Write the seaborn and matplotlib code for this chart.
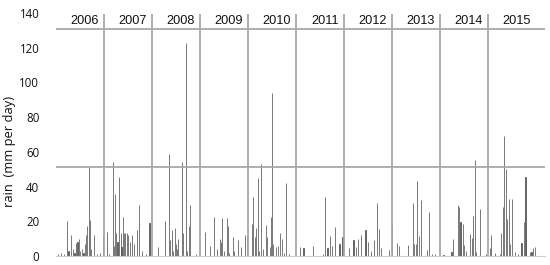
import matplotlib
matplotlib.use("Agg")
import matplotlib.pyplot as plt
import pandas as pd
import seaborn as sns
from matplotlib.ticker import FixedLocator

# ---------------- data ----------------
years = list(range(2006, 2016))
y_ticks = [0, 20, 40, 60, 80, 100, 120, 140]
threshold_mm = 51
header_line = 131

time_yr = [
    2006.04, 2006.10, 2006.17, 2006.223, 2006.26, 2006.306, 2006.354, 2006.385, 2006.41, 2006.448,
    2006.473, 2006.50, 2006.535, 2006.573, 2006.604, 2006.625, 2006.646, 2006.681, 2006.702, 2006.729,
    2006.792, 2006.854, 2006.917, 2006.973,
    2007.056, 2007.104, 2007.181, 2007.208, 2007.229, 2007.256, 2007.281, 2007.319, 2007.348, 2007.365,
    2007.39, 2007.417, 2007.4375, 2007.473, 2007.506, 2007.542, 2007.583, 2007.631, 2007.681, 2007.729,
    2007.792, 2007.875, 2007.948,
    2008.131, 2008.265, 2008.354, 2008.375, 2008.41, 2008.4375, 2008.473, 2008.494, 2008.52, 2008.548,
    2008.619, 2008.652, 2008.702, 2008.729, 2008.771, 2008.792, 2008.917,
    2009.104, 2009.208, 2009.292, 2009.36, 2009.417, 2009.444, 2009.465, 2009.50, 2009.556, 2009.577,
    2009.604, 2009.681, 2009.708, 2009.798, 2009.854, 2009.938, 2009.973,
    2010.083, 2010.11, 2010.14, 2010.173, 2010.202, 2010.229, 2010.277, 2010.319, 2010.369, 2010.402,
    2010.458, 2010.485, 2010.496, 2010.527, 2010.59, 2010.631, 2010.673, 2010.715, 2010.75, 2010.798,
    2010.854,
    2011.083, 2011.156, 2011.348, 2011.569, 2011.604, 2011.656, 2011.708, 2011.756, 2011.8125, 2011.906,
    2011.969,
    2012.11, 2012.198, 2012.25, 2012.292, 2012.358, 2012.448, 2012.506, 2012.569, 2012.629, 2012.683,
    2012.725, 2012.771, 2012.94,
    2013.01, 2013.104, 2013.14, 2013.34, 2013.431, 2013.458, 2013.496, 2013.525, 2013.569, 2013.608,
    2013.723, 2013.767, 2013.833, 2013.896,
    2014.073, 2014.24, 2014.281, 2014.375, 2014.402, 2014.431, 2014.473, 2014.51, 2014.548, 2014.631,
    2014.667, 2014.698, 2014.723, 2014.76, 2014.8375, 2014.958,
    2015.042, 2015.073, 2015.156, 2015.25, 2015.281, 2015.323, 2015.344, 2015.385, 2015.402, 2015.4375,
    2015.458, 2015.494, 2015.5625, 2015.631, 2015.702, 2015.748, 2015.783, 2015.802, 2015.875, 2015.91,
    2015.944, 2015.979,
]

rain_mm = [
    1, 2, 1, 20.4, 3, 12, 4, 2, 7.7, 8,
    9.8, 3, 4, 2, 7, 12, 17.5, 51.5, 20.7, 4,
    12, 1, 1.5, 12,
    13.8, 1, 54, 6, 36, 13, 8, 45.7, 13, 5,
    22.5, 13, 13, 13, 12, 8, 12, 7, 15, 29.4,
    3, 1, 19,
    5, 20.4, 59, 9, 15, 3, 16, 7, 4, 10,
    54.4, 13, 123, 3, 17, 29.4, 1,
    14, 6, 22.5, 4, 10, 8, 22, 3, 22, 17,
    2, 11, 3, 9, 5, 12, 12,
    18.4, 34, 11, 16, 45, 3, 53, 4, 18, 11,
    5, 22.7, 94, 7, 5, 6, 13, 10, 2, 42.3,
    1,
    5, 4.5, 6, 1, 34.2, 4.5, 11.6, 6, 16.5, 7,
    11,
    4.5, 9.4, 5, 10, 12.3, 15.2, 8, 3, 9.2, 30.4,
    15.4, 4.5, 3.6,
    17.8, 7.7, 5.5, 6.3, 30.8, 7, 7, 43, 11.6, 32,
    3.5, 25.6, 1, 1,
    0.5, 2.5, 10, 29.5, 28, 19.8, 18.4, 6.4, 3, 12.7,
    10.4, 23, 55.4, 2.5, 27, 1,
    4.5, 12.2, 2, 1, 13, 28, 69, 50, 21.6, 32.6,
    7, 33, 2.5, 1, 7.7, 19.8, 45.5, 9.2, 2.5, 2.5,
    4.5, 5,
]

df = pd.DataFrame({"time": time_yr, "rain": rain_mm})

# ---------------- figure ----------------
sns.set_style("white")
plt.rcParams["font.family"] = ["Open Sans", "DejaVu Sans"]

fig = plt.figure(figsize=(5.5, 2.65), dpi=100)
ax = fig.add_axes([56 / 550, 9 / 265, 489 / 550, 243 / 265])

sns.barplot(data=df, x="time", y="rain", native_scale=True, errorbar=None,
            width=0.35, color="#4a4a4a", edgecolor="#555555", linewidth=0.55,
            saturation=1, ax=ax)

x_min, x_max = 2006.0, 2016.19
ax.set_xlim(x_min, x_max)
ax.set_ylim(0, 140)

grid_col = "#a8a8a8"
for yr in years[1:]:
    ax.vlines(yr, 0, 139.3, color=grid_col, linewidth=1.3, zorder=3)
ax.axhline(header_line, color=grid_col, linewidth=1.3, zorder=3)
ax.axhline(threshold_mm, color=grid_col, linewidth=1.3, zorder=3)

for yr in years:
    ax.text(yr + 1 - 0.11, 135.6, str(yr), ha="right", va="center",
            fontsize=9.2, family=["Liberation Sans", "DejaVu Sans"], color="#111111")

ax.set_xticks([])
ax.set_yticks(y_ticks)
ax.set_yticklabels([str(v) for v in y_ticks])
ax.tick_params(axis="y", which="major", length=0, pad=12, labelsize=8.3, labelcolor="#111111")
ax.yaxis.set_minor_locator(FixedLocator([40, 80, 120]))
ax.tick_params(axis="y", which="minor", direction="in", length=3, width=0.8,
               color="#c8c8c8", left=True, right=True)

for side in ["left", "right", "top"]:
    ax.spines[side].set_visible(False)
ax.spines["bottom"].set_color("#cfcfcf")
ax.spines["bottom"].set_linewidth(0.8)

ax.set_xlabel("")
ax.set_ylabel("rain  (mm per day)", fontsize=9.3, color="#111111")
ax.yaxis.set_label_coords(-0.082, 0.43)

fig.savefig("out.png", dpi=100)
